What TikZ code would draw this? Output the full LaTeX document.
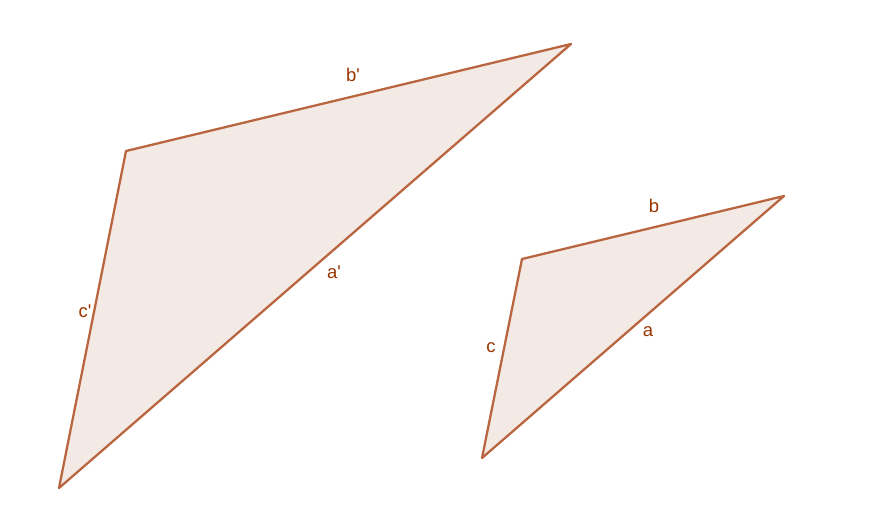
\documentclass[tikz,border=0pt]{standalone}
\usepackage{fontspec}
\setmainfont{Liberation Sans}
\usepackage{tikz}
\definecolor{sideline}{RGB}{185,102,64}
\definecolor{sidefill}{RGB}{244,234,229}
\definecolor{sidelabel}{RGB}{153,51,0}
\tikzset{
trifill/.style={draw=sideline,fill=sidefill,line width=1.3pt,line join=round},
sidename/.style={text=sidelabel,font=\fontsize{10.5}{12}\selectfont,inner sep=0pt}
}
\begin{document}
\begin{tikzpicture}[
x=0.02cm,
y=-0.02cm
]
\useasboundingbox (0,0) rectangle (881,522);
% larger triangle
\coordinate (Bp) at (126,151);
\coordinate (Cp) at (571,44);
\coordinate (Ap) at (59,488);
% smaller triangle
\coordinate (B) at (522,259);
\coordinate (C) at (784,196);
\coordinate (A) at (482,458);
\draw[trifill] (Bp)--(Cp)--(Ap)--cycle;
\draw[trifill] (B)--(C)--(A)--cycle;
\node[sidename] (bp) at (353,75) {b\textquotesingle};
\node[sidename] (ap) at (334,272) {a\textquotesingle};
\node[sidename] (cp) at (85,311) {c\textquotesingle};
\node[sidename] (b) at (654,206) {b};
\node[sidename] (a) at (648,332) {a};
\node[sidename] (c) at (491,348) {c};
\end{tikzpicture}
\end{document}
